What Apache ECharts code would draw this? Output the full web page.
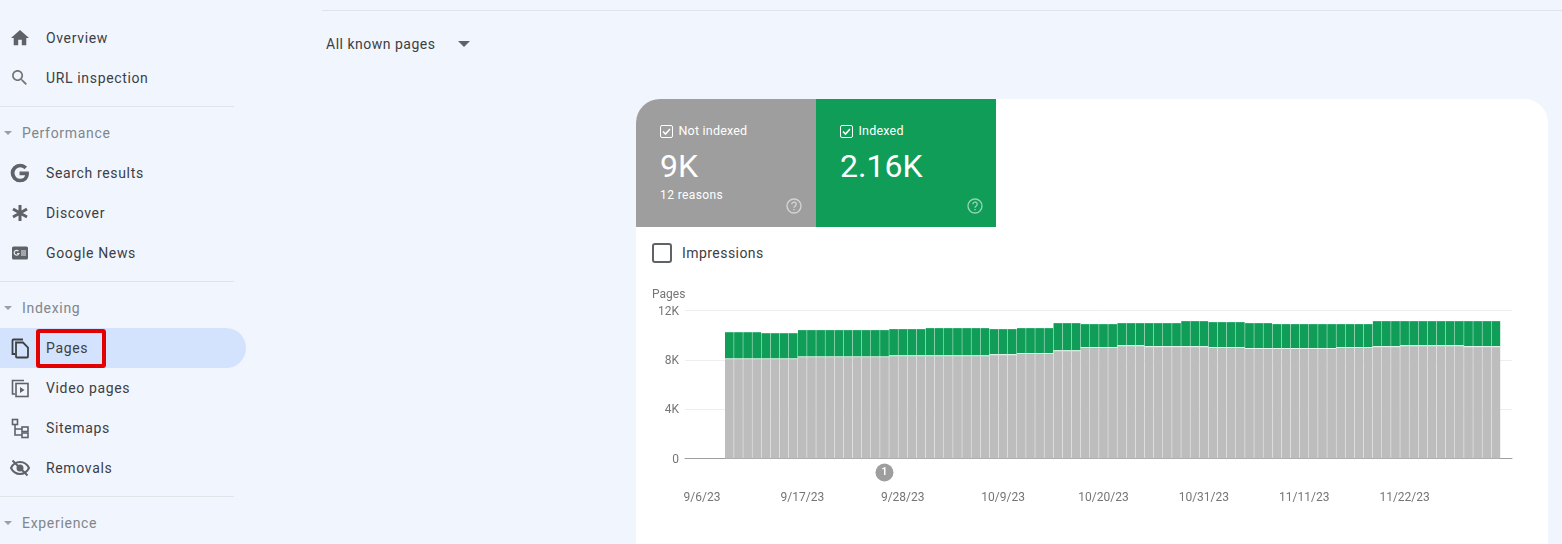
<!DOCTYPE html>
<html><head><meta charset="utf-8">
<script src="https://cdn.jsdelivr.net/npm/echarts@6/dist/echarts.min.js"></script>
<style>
html,body{margin:0;padding:0;width:1562px;height:544px;overflow:hidden;background:#f1f5fe;font-family:Roboto,sans-serif}
.a{position:absolute;white-space:nowrap;line-height:20px}
.nav{left:46px;font-size:14px;letter-spacing:.65px;color:#3c4043;margin-top:-10px}
.sec{left:22px;font-size:14px;letter-spacing:.7px;color:#80868b;margin-top:-10px}
.hr{position:absolute;left:0;width:234px;height:1px;background:#e0e3e7}
.tri{position:absolute;left:4px;width:0;height:0;border-left:4px solid transparent;border-right:4px solid transparent;border-top:4px solid #9aa0a6;margin-top:-2px}
svg.i{position:absolute;left:8px;width:24px;height:24px;margin-top:-12px}
.w{color:#fff}
</style></head><body>
<div class="a" style="left:322px;top:10px;width:1240px;height:1px;background:#e0e3e7"></div>
<div class="a" style="left:326px;top:34px;font-size:14px;letter-spacing:.5px;color:#3c4043">All known pages</div>
<div class="a" style="left:458px;top:41px;width:0;height:0;border-left:6px solid transparent;border-right:6px solid transparent;border-top:6px solid #5f6368;line-height:0"></div>

<svg class="i" style="top:38px" viewBox="0 0 24 24" fill="#5f6368"><path transform="translate(1.2 1.2) scale(.9)" d="M10 20v-6h4v6h5v-8h3L12 3 2 12h3v8z"/></svg>
<div class="a nav" style="top:38px">Overview</div>
<svg class="i" style="top:78px" viewBox="0 0 24 24" fill="#757575"><path transform="translate(1.5 1.5) scale(.85)" d="M15.5 14h-.79l-.28-.27C15.41 12.59 16 11.11 16 9.5 16 5.91 13.09 3 9.5 3S3 5.910 3 9.500 5.910 16 9.500 16c1.610 0 3.090-.590 4.230-1.570l.270.280v.790l5 4.990L20.490 19l-4.990-5zm-6 0C7.010 14 5 11.990 5 9.500S7.010 5 9.500 5 14 7.010 14 9.500 11.990 14 9.500 14z"/></svg>
<div class="a nav" style="top:78px">URL inspection</div>
<div class="hr" style="top:106px"></div>
<div class="tri" style="top:133px"></div>
<div class="a sec" style="top:133px">Performance</div>
<svg class="i" style="top:173px" viewBox="0 0 24 24" fill="#5f6368"><path transform="translate(1.5 1.5) scale(.875)" d="M21.35 11.1h-9.17v2.73h6.51c-.33 3.81-3.5 5.44-6.5 5.44C8.36 19.27 5 16.25 5 12c0-4.1 3.2-7.27 7.2-7.27 3.09 0 4.9 1.97 4.9 1.97L19 4.72S16.56 2 12.1 2C6.42 2 2.03 6.8 2.03 12c0 5.05 4.13 10 10.22 10 5.35 0 9.25-3.67 9.25-9.09 0-1.15-.15-1.81-.15-1.81z" stroke="#5f6368" stroke-width="1.4"/></svg>
<div class="a nav" style="top:173px">Search results</div>
<svg class="i" style="top:213px" viewBox="0 0 24 24" fill="none" stroke="#5f6368" stroke-width="3"><path d="M12 4v16M5 8l14 8M19 8L5 16"/></svg>
<div class="a nav" style="top:213px">Discover</div>
<svg class="i" style="top:253px" viewBox="0 0 24 24"><rect x="4" y="5.500" width="16" height="13" rx="1.500" fill="#5f6368"/><path d="M13 10h5M13 12h5M13 14h5" stroke="#e8eaed" stroke-width="1"/><path d="M10.500 10.200a2.400 2.400 0 1 0 .4 2.300H9" fill="none" stroke="#e8eaed" stroke-width="1.200"/></svg>
<div class="a nav" style="top:253px">Google News</div>
<div class="hr" style="top:281px"></div>
<div class="tri" style="top:308px"></div>
<div class="a sec" style="top:308px">Indexing</div>
<div class="a" style="left:0;top:328px;width:246px;height:40px;background:#d3e3fd;border-radius:0 20px 20px 0"></div>
<svg class="i" style="top:348px" viewBox="0 0 24 24" fill="none" stroke="#3c4043" stroke-width="1.800"><path d="M7 18H4.500V4.500a1 1 0 0 1 1-1H15"/><path d="M8 6.500h7l5 5v9a1 1 0 0 1-1 1H9a1 1 0 0 1-1-1z"/></svg>
<div class="a nav" style="top:348px">Pages</div>
<div class="a" style="left:36px;top:329px;width:62px;height:31px;border:4px solid #e20000;border-radius:3px"></div>
<svg class="i" style="top:388px" viewBox="0 0 24 24" fill="none" stroke="#5f6368" stroke-width="1.600"><path d="M7 18H4.500V4.500H16"/><rect x="8" y="7.500" width="12" height="13"/><path d="M12 11l4.500 3-4.500 3z" fill="#5f6368" stroke="none"/></svg>
<div class="a nav" style="top:388px">Video pages</div>
<svg class="i" style="top:428px" viewBox="0 0 24 24" fill="none" stroke="#5f6368" stroke-width="1.600"><rect x="4.500" y="3.500" width="5" height="5"/><rect x="14" y="11" width="6" height="4.500"/><rect x="14" y="17" width="6" height="4.500"/><path d="M7 8.500V19h7M7 13h7"/></svg>
<div class="a nav" style="top:428px">Sitemaps</div>
<svg class="i" style="top:468px" viewBox="0 0 24 24" fill="none" stroke="#5f6368" stroke-width="2"><path d="M3 12c2-4 5-6 9-6s7 2 9 6c-2 4-5 6-9 6s-7-2-9-6z"/><circle cx="12" cy="12" r="2.500" fill="#5f6368"/><path d="M4.500 4.500l15 15"/></svg>
<div class="a nav" style="top:468px">Removals</div>
<div class="hr" style="top:496px"></div>
<div class="tri" style="top:523px"></div>
<div class="a sec" style="top:523px">Experience</div>

<div class="a" style="left:636px;top:99px;width:912px;height:460px;background:#fff;border-radius:24px 24px 0 0;overflow:hidden">
  <div class="a" style="left:0;top:0;width:180px;height:128px;background:#9e9e9e"></div>
  <div class="a" style="left:180px;top:0;width:180px;height:128px;background:#0f9d58"></div>
</div>
<svg class="a" style="left:660px;top:125px" width="13" height="13" viewBox="0 0 13 13" fill="none" stroke="#fff"><rect x=".5" y=".5" width="12" height="12" rx="1.500"/><path d="M3 6.500l2.500 2.500L10 4" stroke-width="1.600"/></svg>
<div class="a w" style="left:678.500px;top:121px;font-size:12.500px;letter-spacing:.2px">Not indexed</div>
<div class="a w" style="left:660px;top:146px;font-size:32px;line-height:40px">9K</div>
<div class="a w" style="left:660px;top:185px;font-size:12px;letter-spacing:.4px">12 reasons</div>
<svg class="a" style="left:786px;top:198px" width="16" height="16" viewBox="0 0 16 16" fill="none" stroke="#fff" opacity=".55" stroke-width="1.400"><circle cx="8" cy="8" r="7"/><path d="M5.800 6.300a2.200 2.200 0 1 1 3.300 1.900c-.7.4-1.100.8-1.100 1.600M8 11v1.300"/></svg>
<svg class="a" style="left:840px;top:125px" width="13" height="13" viewBox="0 0 13 13" fill="none" stroke="#fff"><rect x=".5" y=".5" width="12" height="12" rx="1.500"/><path d="M3 6.500l2.500 2.500L10 4" stroke-width="1.600"/></svg>
<div class="a w" style="left:858.500px;top:121px;font-size:12.500px;letter-spacing:.2px">Indexed</div>
<div class="a w" style="left:840px;top:146px;font-size:32px;line-height:40px">2.16K</div>
<svg class="a" style="left:967px;top:198px" width="16" height="16" viewBox="0 0 16 16" fill="none" stroke="#fff" opacity=".55" stroke-width="1.400"><circle cx="8" cy="8" r="7"/><path d="M5.800 6.300a2.200 2.200 0 1 1 3.300 1.900c-.7.4-1.100.8-1.100 1.600M8 11v1.300"/></svg>
<div class="a" style="left:652px;top:243px;width:16px;height:16px;border:2px solid #5f6368;border-radius:3px"></div>
<div class="a" style="left:682px;top:243px;font-size:14px;letter-spacing:.45px;color:#3c4043">Impressions</div>

<div id="c" style="position:absolute;left:640px;top:280px;width:900px;height:240px"></div>
<script>
const tickLabels = ['9/6/23','9/17/23','9/28/23','10/9/23','10/20/23','10/31/23','11/11/23','11/22/23'];
const tickDays = [0,11,22,33,44,55,66,77];
const yTickLabels = {0:'0',4000:'4K',8000:'8K',12000:'12K'};
const firstBarDay = 3; // the first bar is 9/9/23
const notIndexed = [
8040,8040,8040,8040,8040,8040,8040,8040,
8200,8200,8200,8200,8200,8200,8200,8200,8200,8200,
8290,8290,8290,8290,8290,8290,8290,8290,8290,8290,8290,
8380,8380,8380,
8465,8465,8465,8465,
8700,8700,8700,
8950,8950,8950,8950,
9110,9110,9110,
9030,9030,9030,9030,9030,9030,9030,
8950,8950,8950,8950,
8870,8870,8870,8870,8870,8870,8870,8870,8870,8870,
8950,8950,8950,8950,
9030,9030,9030,
9110,9110,9110,9110,9110,9110,9110,
9030,9030,9030,9030];
const indexed = [
2200,2200,2200,2200,2120,2120,2120,2120,
2210,2210,2210,2210,2210,2210,2210,2210,2210,2210,
2200,2200,2200,2200,2280,2280,2280,2280,2280,2280,2280,
2110,2110,2110,
2105,2105,2105,2105,
2275,2275,2275,
1945,1945,1945,1945,
1865,1865,1865,
1945,1945,1945,1945,2107,2107,2107,
2107,2107,2107,2107,
2105,2105,2105,2025,2025,2025,2025,2025,2025,2025,
1945,1945,1945,1945,
2107,2107,2107,
2027,2027,2027,2027,2027,2027,2027,
2107,2107,2107,2107];
const annotationDay = 20;
const annotationLabel = '1';

const chart = echarts.init(document.getElementById('c'));
const fontFamily = 'Roboto, sans-serif';
const pairs = a => a.map((v,i)=>[firstBarDay+i,v]);
const barW = 8.7;
chart.setOption({
  animation:false,
  textStyle:{fontFamily},
  title:{text:'Pages',left:12,top:9,padding:0,textStyle:{color:'#757575',fontSize:12,fontWeight:'normal',fontFamily}},
  grid:{left:45,top:30.5,width:827,height:148,containLabel:false},
  xAxis:{type:'value',min:-1.86,max:88.77,splitLine:{show:false},
    axisLine:{show:true,lineStyle:{color:'#9e9e9e',width:1},onZero:false},
    axisTick:{show:false},
    axisLabel:{customValues:tickDays,margin:33,fontSize:12,color:'#757575',fontFamily,
      hideOverlap:false,showMinLabel:true,showMaxLabel:true,
      formatter:v=>tickLabels[tickDays.indexOf(v)]}},
  yAxis:{type:'value',min:0,max:12000,interval:4000,
    axisLine:{show:false},axisTick:{show:false},
    splitLine:{lineStyle:{color:'#eeeeee',width:1}},
    axisLabel:{margin:6,fontSize:12,color:'#757575',fontFamily,verticalAlign:'top',lineHeight:2,formatter:v=>yTickLabels[v]}},
  series:[
    {name:'Not indexed',type:'bar',barWidth:barW,data:pairs(notIndexed),itemStyle:{color:'#bdbdbd'},z:3,
     markPoint:{symbol:'circle',symbolSize:18,symbolOffset:[0,14],itemStyle:{color:'#9e9e9e'},
       label:{show:true,position:'inside',color:'#fff',fontSize:10,fontWeight:'bold',fontFamily,formatter:annotationLabel},
       data:[{coord:[annotationDay,0]}]}},
    {name:'Indexed',type:'custom',z:4,silent:true,clip:false,
     data:notIndexed.map((v,i)=>[firstBarDay+i,v,indexed[i]]),
     encode:{x:0,y:1},
     renderItem(params,api){
       const x=api.value(0), base=api.value(1), top=base+api.value(2);
       const p0=api.coord([x,base]), p1=api.coord([x,top]);
       const w=api.size([1,0])[0];
       return {type:'group',children:[
         {type:'rect',shape:{x:p0[0]-barW/2,y:p1[1],width:barW,height:p0[1]-p1[1]},style:{fill:'#0f9d58'}},
         {type:'rect',shape:{x:p0[0]-w/2,y:p0[1]-1,width:w,height:1},style:{fill:'#fff'}}
       ]};
     }}
  ]
});
</script>
</body></html>
